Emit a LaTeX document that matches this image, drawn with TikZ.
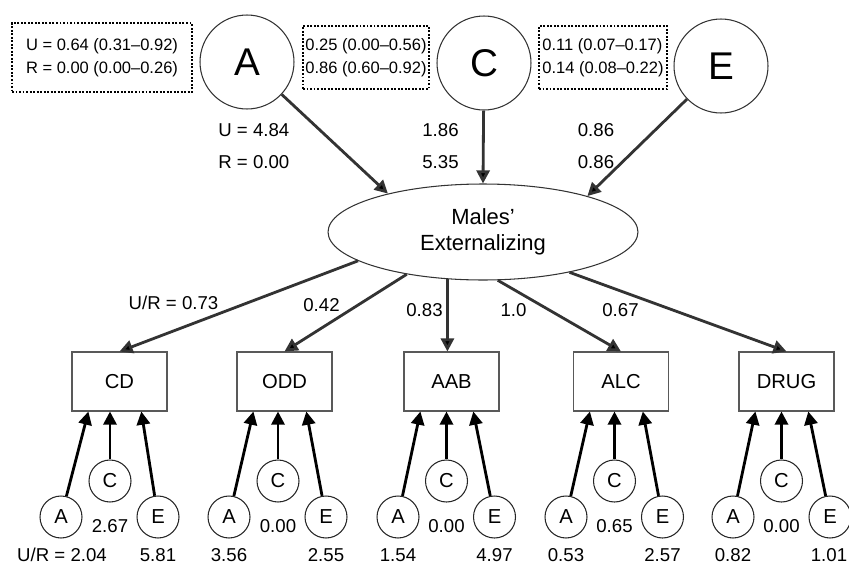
\documentclass[tikz,border=0pt]{standalone}
\usepackage{fontspec}
\setsansfont{Liberation Sans}
\usetikzlibrary{arrows.meta, shapes.geometric, positioning}

\begin{document}
\begin{tikzpicture}[font=\sffamily, x=0.02cm, y=-0.02cm]

        % Setup the styles for the nodes and arrows
        \tikzset{big style/.style={circle,
                                   draw=black!80,
                                   line width=0.6pt,
                                   minimum size=1.88cm,
                                   inner sep=0pt,
                                   font=\sffamily\fontsize{22}{24}\selectfont},
                 small style/.style={circle,
                                     draw=black!85,
                                     line width=0.6pt,
                                     minimum size=0.84cm,
                                     inner sep=0pt,
                                     font=\sffamily\fontsize{11.5}{13}\selectfont},
                 box style/.style={rectangle,
                                   draw=black!65,
                                   line width=0.6pt,
                                   minimum width=1.9cm,
                                   minimum height=1.18cm,
                                   font=\sffamily\fontsize{11.5}{13}\selectfont},
                 ci style/.style={rectangle,
                                  draw=black,
                                  line width=1.1pt,
                                  dash pattern=on 1.1pt off 0.9pt,
                                  align=left,
                                  inner sep=0pt,
                                  minimum height=1.26cm,
                                  font=\sffamily\fontsize{9.4}{13}\selectfont},
                 value/.style={inner sep=0pt,
                               font=\sffamily\fontsize{10.6}{12}\selectfont},
                 path style/.style={>={Triangle[length=7.5pt, width=7.5pt]},
                                    line width=1.6pt,
                                    draw=black!80,
                                    every edge/.append style={->}},
                 small path/.style={path style, draw=black}}

        \useasboundingbox (0, 0) rectangle (849, 565);

        % Draw the factors and the intervals
        \node[big style] at (247, 62)   (A)     {A};
        \node[big style] at (484, 63)   (C)     {C};
        \node[big style] at (721, 66)   (E)     {E};
        \node[ci style, minimum width=3.6cm, minimum height=1.38cm]
            at (102, 57.5) (ciA) {U = 0.64 (0.31–0.92)\\R = 0.00 (0.00–0.26)};
        \node[ci style, minimum width=2.52cm]
            at (366, 57.5) (ciC) {0.25 (0.00–0.56)\\0.86 (0.60–0.92)};
        \node[ci style, minimum width=2.56cm]
            at (603, 57.5) (ciE) {0.11 (0.07–0.17)\\0.14 (0.08–0.22)};

        \node[value, anchor=west] at (218, 130)   (uA)    {U = 4.84};
        \node[value, anchor=west] at (218, 162)   (rA)    {R = 0.00};
        \node[value] at (440.5, 130)   (uC)    {1.86};
        \node[value] at (440.5, 162)   (rC)    {5.35};
        \node[value] at (596, 130)     (uE)    {0.86};
        \node[value] at (596, 162)     (rE)    {0.86};

        % Draw the latent factor and the measures
        \node[ellipse, draw=black!80, line width=0.6pt,
              minimum width=6.2cm, minimum height=1.92cm, align=center,
              font=\sffamily\fontsize{12.5}{15}\selectfont]
            at (483, 232) (ext) {Males’\\Externalizing};

        \node[box style] at (119.5, 381.5)   (cd)     {CD};
        \node[box style] at (284.5, 381.5)   (odd)    {ODD};
        \node[box style] at (451.5, 381.5)   (aab)    {AAB};
        \node[box style] at (621, 381.5)     (alc)    {ALC};
        \node[box style] at (786.5, 381.5)   (drug)   {DRUG};

        \node[value] at (173.5, 303)   (lcd)    {U/R = 0.73};
        \node[value] at (321.5, 305)   (lodd)   {0.42};
        \node[value] at (424.5, 310)   (laab)   {0.83};
        \node[value] at (513.5, 310)   (lalc)   {1.0};
        \node[value] at (620.5, 310)   (ldrug)  {0.67};

        % Draw the specific factors
        \node[small style] at (61, 517)     (cdA)    {A};
        \node[small style] at (110, 481)    (cdC)    {C};
        \node[small style] at (158, 517)    (cdE)    {E};
        \node[small style] at (229, 517)    (oddA)   {A};
        \node[small style] at (278, 481)    (oddC)   {C};
        \node[small style] at (326, 517)    (oddE)   {E};
        \node[small style] at (398, 517)    (aabA)   {A};
        \node[small style] at (446.5, 481)  (aabC)   {C};
        \node[small style] at (494.5, 517)  (aabE)   {E};
        \node[small style] at (566, 517)    (alcA)   {A};
        \node[small style] at (614.5, 481)  (alcC)   {C};
        \node[small style] at (662.5, 517)  (alcE)   {E};
        \node[small style] at (733, 517)    (drugA)  {A};
        \node[small style] at (781.5, 481)  (drugC)  {C};
        \node[small style] at (830, 517)    (drugE)  {E};

        \node[value] at (110, 526)    (vcdC)    {2.67};
        \node[value] at (278, 526)    (voddC)   {0.00};
        \node[value] at (446.5, 526)  (vaabC)   {0.00};
        \node[value] at (614.5, 526)  (valcC)   {0.65};
        \node[value] at (781.5, 526)  (vdrugC)  {0.00};

        \node[value] at (62, 555)     (vcdA)    {U/R = 2.04};
        \node[value] at (158, 555)    (vcdE)    {5.81};
        \node[value] at (229, 555)    (voddA)   {3.56};
        \node[value] at (326, 555)    (voddE)   {2.55};
        \node[value] at (398, 555)    (vaabA)   {1.54};
        \node[value] at (494.5, 555)  (vaabE)   {4.97};
        \node[value] at (566, 555)    (valcA)   {0.53};
        \node[value] at (662.5, 555)  (valcE)   {2.57};
        \node[value] at (733, 555)    (vdrugA)  {0.82};
        \node[value] at (829, 555)    (vdrugE)  {1.01};

        % Connect the factors with arrows
        \draw[path style]
            (A)         edge    (ext.158)
            (C)         edge    (ext.north)
            (E)         edge    (ext.19)
            (ext.193)   edge    (cd.north)
            (ext.209)   edge    (odd.north)
            (ext.233)   edge    (ext.233 |- aab.north)
            (ext.287)   edge    (alc.north)
            (ext.335)   edge    (drug.north)
            ;
        \draw[small path]
            (cdA)     edge    (cd.224)
            (cdC)     edge    (cdC |- cd.south)
            (cdE)     edge    (cd.306)
            (oddA)    edge    (odd.224)
            (oddC)    edge    (oddC |- odd.south)
            (oddE)    edge    (odd.306)
            (aabA)    edge    (aab.224)
            (aabC)    edge    (aabC |- aab.south)
            (aabE)    edge    (aab.306)
            (alcA)    edge    (alc.224)
            (alcC)    edge    (alcC |- alc.south)
            (alcE)    edge    (alc.306)
            (drugA)   edge    (drug.224)
            (drugC)   edge    (drugC |- drug.south)
            (drugE)   edge    (drug.306)
            ;
\end{tikzpicture}
\end{document}
